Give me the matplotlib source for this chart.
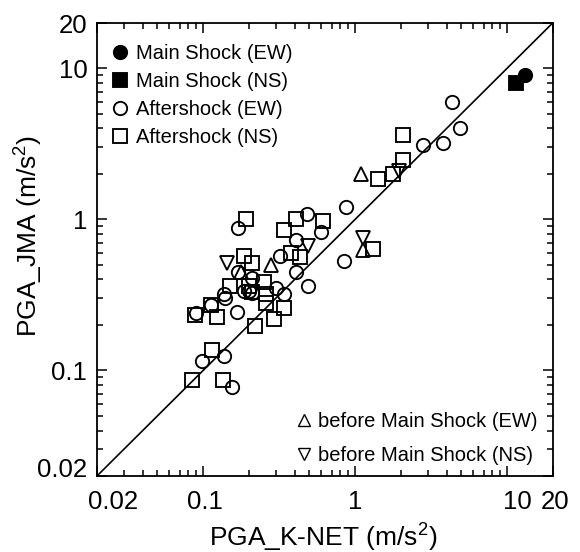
import matplotlib
matplotlib.use('Agg')
import matplotlib.pyplot as plt
import matplotlib.transforms as mtransforms
from matplotlib.lines import Line2D
from matplotlib.ticker import FixedLocator, FixedFormatter, LogLocator, NullFormatter

plt.rcParams['font.family'] = ['Liberation Sans', 'DejaVu Sans']
plt.rcParams['mathtext.fontset'] = 'custom'
plt.rcParams['mathtext.rm'] = 'Liberation Sans'
plt.rcParams['mathtext.default'] = 'regular'

# ---- data (PGA in m/s^2) ----
main_ew_x = [13.0]
main_ew_y = [9.0]
main_ns_x = [11.5]
main_ns_y = [8.0]

after_ew_x = [4.3, 4.9, 3.8, 2.8, 0.87, 0.84, 0.48, 0.60, 0.41, 0.17, 0.32, 0.41, 0.17, 0.21,
              0.49, 0.30, 0.34, 0.185, 0.20, 0.21, 0.137, 0.14, 0.113, 0.089, 0.168, 0.098,
              0.138, 0.155]
after_ew_y = [6.0, 4.0, 3.2, 3.1, 1.21, 0.53, 1.08, 0.83, 0.73, 0.87, 0.57, 0.45, 0.45, 0.41,
              0.36, 0.35, 0.32, 0.335, 0.335, 0.325, 0.32, 0.30, 0.27, 0.24, 0.245, 0.116,
              0.124, 0.078]

after_ns_x = [2.05, 2.05, 1.77, 1.41, 1.31, 0.19, 0.41, 0.61, 0.34, 0.38, 0.43, 0.186, 0.21,
              0.25, 0.15, 0.20, 0.21, 0.26, 0.26, 0.34, 0.29, 0.22, 0.112, 0.088, 0.123,
              0.115, 0.085, 0.135]
after_ns_y = [3.6, 2.45, 2.0, 1.86, 0.64, 1.01, 1.01, 0.97, 0.85, 0.60, 0.56, 0.57, 0.51,
              0.385, 0.36, 0.36, 0.33, 0.32, 0.28, 0.26, 0.22, 0.196, 0.27, 0.234, 0.227,
              0.137, 0.087, 0.086]

before_ew_x = [1.09, 1.12, 0.28, 0.177]
before_ew_y = [2.0, 0.63, 0.50, 0.445]
before_ns_x = [1.95, 1.12, 0.49, 0.144]
before_ns_y = [2.1, 0.75, 0.67, 0.51]

axis_lim = [0.02, 20]
tick_vals = [0.02, 0.1, 1, 10, 20]
tick_labels = ['0.02', '0.1', '1', '10', '20']

# ---- figure ----
fig = plt.figure(figsize=(5.8, 5.52), dpi=100)
ax = fig.add_axes([0.1672, 0.1377, 0.7862, 0.8212])

ms = 9.6
mew = 1.35
ax.plot(axis_lim, axis_lim, color='black', lw=1.2, zorder=1)

common = dict(linestyle='none', markersize=ms, markeredgewidth=mew, markeredgecolor='black')
ax.plot(after_ew_x, after_ew_y, marker='o', markerfacecolor='none', **common)
ax.plot(after_ns_x, after_ns_y, marker='s', markerfacecolor='none', **common)
ax.plot(before_ew_x, before_ew_y, marker='^', markerfacecolor='none', **common)
ax.plot(before_ns_x, before_ns_y, marker='v', markerfacecolor='none', **common)
ax.plot(main_ns_x, main_ns_y, marker='s', markerfacecolor='black', **common)
ax.plot(main_ew_x, main_ew_y, marker='o', markerfacecolor='black', **common)

ax.set_xscale('log')
ax.set_yscale('log')
ax.set_xlim(axis_lim)
ax.set_ylim(axis_lim)

for axis in (ax.xaxis, ax.yaxis):
    axis.set_major_locator(FixedLocator(tick_vals))
    axis.set_major_formatter(FixedFormatter(tick_labels))
    axis.set_minor_locator(LogLocator(base=10, subs=range(2, 10)))
    axis.set_minor_formatter(NullFormatter())

ax.tick_params(which='both', direction='in', top=True, right=True, width=1.1, labelsize=18.5)
ax.tick_params(which='major', length=7)
ax.tick_params(which='minor', length=4)
ax.tick_params(axis='x', pad=10)
ax.tick_params(axis='y', pad=7)
for s in ax.spines.values():
    s.set_linewidth(1.3)

# small manual nudges of individual tick labels (pixels), as in the reference
x_shift = [16, 2, 0, 10, 2]
y_shift = [8, 0, 0, 0, -1]
fig.canvas.draw()
for lab, dx in zip(ax.xaxis.get_majorticklabels(), x_shift):
    lab.set_transform(lab.get_transform() + mtransforms.ScaledTranslation(dx / 100, 0, fig.dpi_scale_trans))
for lab, dy in zip(ax.yaxis.get_majorticklabels(), y_shift):
    lab.set_transform(lab.get_transform() + mtransforms.ScaledTranslation(0, dy / 100, fig.dpi_scale_trans))

ax.set_xlabel('PGA_K-NET (m/s$^2$)', fontsize=19)
ax.xaxis.set_label_coords(0.497, -0.100)
ax.xaxis.label.set_verticalalignment('top')
ax.set_ylabel('PGA_JMA (m/s$^2$)', fontsize=19)
ax.yaxis.set_label_coords(-0.150, 0.529)
ax.yaxis.label.set_verticalalignment('center')

# legends
h1 = [Line2D([], [], marker='o', markerfacecolor='black', **common),
      Line2D([], [], marker='s', markerfacecolor='black', **common),
      Line2D([], [], marker='o', markerfacecolor='none', **common),
      Line2D([], [], marker='s', markerfacecolor='none', **common)]
l1 = ax.legend(h1, ['Main Shock (EW)', 'Main Shock (NS)', 'Aftershock (EW)', 'Aftershock (NS)'],
               loc='upper left', bbox_to_anchor=(0.0, 0.985), frameon=False, fontsize=14.5,
               handlelength=0.9, handletextpad=0.35, labelspacing=0.45, borderaxespad=0.3)
ax.add_artist(l1)

common2 = dict(linestyle='none', markersize=9, markeredgewidth=1.0, markeredgecolor='black',
               markerfacecolor='none')
h2 = [Line2D([], [], marker='^', **common2),
      Line2D([], [], marker='v', **common2)]
ax.legend(h2, ['before Main Shock (EW)', 'before Main Shock (NS)'],
          loc='lower right', bbox_to_anchor=(0.99, 0.0), frameon=False, fontsize=14.5,
          handlelength=0.8, handletextpad=0.3, labelspacing=0.75, borderaxespad=0.15)

fig.savefig('out.png', dpi=100)
